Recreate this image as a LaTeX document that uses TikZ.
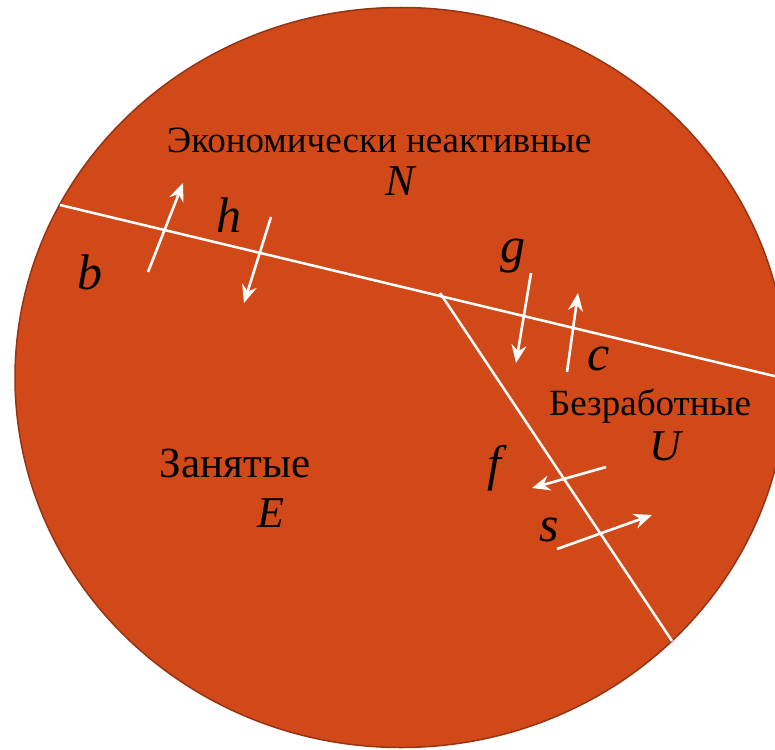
\documentclass[tikz,border=0pt]{standalone}
\usepackage{fontspec}
\setmainfont{Liberation Serif}
\usetikzlibrary{arrows.meta}

\definecolor{popfill}{RGB}{209,73,24}
\definecolor{popedge}{RGB}{150,52,20}

\begin{document}
\begin{tikzpicture}[x=1pt,y=-1pt,
    bound/.style={draw=white,line width=2.5pt},
    flow/.style={draw=white,line width=2.6pt,-{Stealth[length=18pt,width=15pt,inset=6pt]}},
    group/.style={anchor=base,inner sep=0pt,font=\fontsize{37}{40}\selectfont},
    state/.style={anchor=base,inner sep=0pt,font=\fontsize{44}{48}\selectfont\itshape},
    rate/.style={anchor=base,inner sep=0pt,font=\fontsize{50}{54}\selectfont\itshape}]

\useasboundingbox (0,0) rectangle (775,749);
\fill[white] (0,0) rectangle (775,749);

% Population
\fill[popfill,draw=popedge,line width=1.5pt] (401,377.5) ellipse [x radius=386,y radius=370];

% Boundaries
\coordinate (wl) at (60,205);
\coordinate (wr) at (775,376.2);
\coordinate (jn) at (440,293);
\coordinate (sb) at (672,641);
\draw[bound] (wl) -- (wr);
\draw[bound] (jn) -- (sb);

% Flow ends
\coordinate (b0) at (148,272);  \coordinate (b1) at (183,183);
\coordinate (h0) at (271,217);  \coordinate (h1) at (244,303);
\coordinate (g0) at (531,273);  \coordinate (g1) at (516,363);
\coordinate (c0) at (567,372);  \coordinate (c1) at (578,293);
\coordinate (f0) at (606,467);  \coordinate (f1) at (532,488);
\coordinate (s0) at (557,549);  \coordinate (s1) at (652,515);

% Flows
\draw[flow] (b0) -- (b1);
\draw[flow] (h0) -- (h1);
\draw[flow] (g0) -- (g1);
\draw[flow] (c0) -- (c1);
\draw[flow] (f0) -- (f1);
\draw[flow] (s0) -- (s1);

% Groups
\node[group] (nlab) at (379,152) {Экономически неактивные};
\node[state] (N) at (400,195) {N};
\node[group,font=\fontsize{43}{46}\selectfont] (elab) at (235,477) {Занятые};
\node[state] (E) at (271,527) {E};
\node[group] (ulab) at (650,415) {Безработные};
\node[state] (U) at (665,460) {U};

% Rates
\node[rate] (b) at (90,289) {b};
\node[rate] (h) at (229,232) {h};
\node[rate] (g) at (513,262) {g};
\node[rate] (c) at (599,370) {c};
\node[rate] (f) at (494,480) {f};
\node[rate] (s) at (549,541) {s};

\end{tikzpicture}
\end{document}
